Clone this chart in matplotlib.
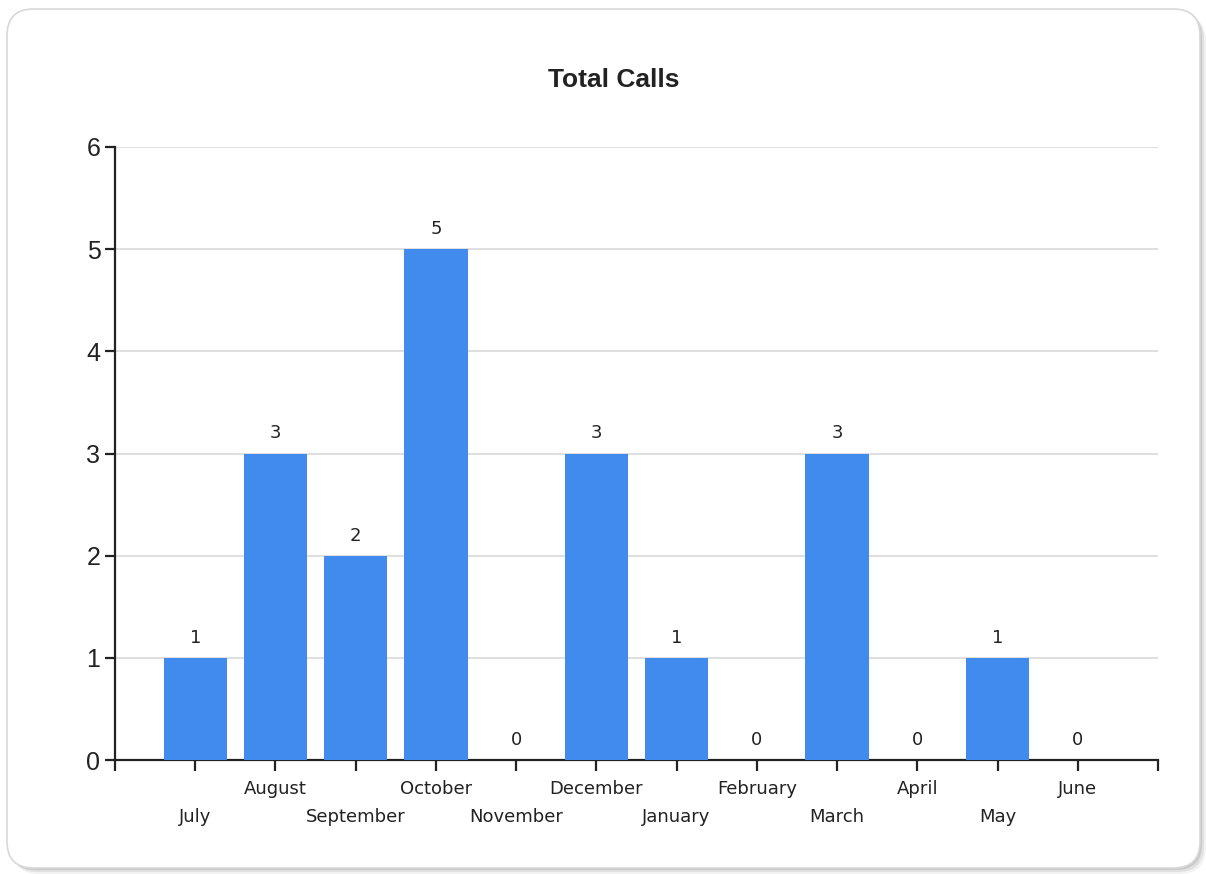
import matplotlib.pyplot as plt
from matplotlib.patches import FancyBboxPatch

# data
months = ["July", "August", "September", "October", "November", "December",
          "January", "February", "March", "April", "May", "June"]
calls = [1, 3, 2, 5, 0, 3, 1, 0, 3, 0, 1, 0]

bar_color = "#428BEE"
text_color = "#222222"

plt.rcParams['font.family'] = ['Liberation Sans', 'DejaVu Sans']

fig = plt.figure(figsize=(12.06, 8.74), dpi=100)
fig.patch.set_facecolor("white")

# rounded panel with soft shadow (kept behind the axes)
W, H = 1206, 874
for k, a in [(6, 0.05), (4, 0.07), (2, 0.10)]:
    sh = FancyBboxPatch((7 / W + k / W, (H - 868) / H - k / H), 1193 / W, 859 / H,
                        boxstyle="round,pad=0,rounding_size=0.022",
                        transform=fig.transFigure, facecolor="black",
                        edgecolor="none", alpha=a, mutation_aspect=W / H, zorder=-10)
    fig.patches.append(sh)
panel = FancyBboxPatch((7 / W, (H - 868) / H), 1193 / W, 859 / H,
                       boxstyle="round,pad=0,rounding_size=0.022",
                       transform=fig.transFigure, facecolor="white",
                       edgecolor="#d8d8d8", linewidth=1.2, mutation_aspect=W / H,
                       zorder=-9)
fig.patches.append(panel)

ax = fig.add_axes([115 / W, (H - 760) / H, (1158 - 115) / W, (760 - 147) / H])
ax.set_facecolor("none")

x = list(range(len(months)))
bars = ax.bar(x, calls, width=0.79, color=bar_color, zorder=3)

for xi, v in zip(x, calls):
    ax.annotate(str(v), (xi, v), xytext=(0, 8), textcoords="offset points",
                ha="center", va="bottom", fontsize=13, color=text_color,
                family="DejaVu Sans")

ax.set_xlim(-1, 12)
ax.set_ylim(0, 6)
ax.set_yticks(range(0, 7))
ax.set_xticks(range(-1, 13))
ax.set_xticklabels([])
ax.yaxis.grid(True, color="#dcdcdc", linewidth=1.3, zorder=0)
ax.set_axisbelow(True)

for s in ["top", "right"]:
    ax.spines[s].set_visible(False)
for s in ["left", "bottom"]:
    ax.spines[s].set_color(text_color)
    ax.spines[s].set_linewidth(1.6)

ax.tick_params(axis="y", direction="out", length=7.5, width=1.6, color=text_color,
               labelsize=18, labelcolor=text_color, pad=3)
ax.tick_params(axis="x", direction="out", length=8, width=1.6, color=text_color)

# staggered month labels
for i, m in enumerate(months):
    yy = -0.093 if i % 2 == 0 else -0.047
    ax.text(i, yy, m, transform=ax.get_xaxis_transform(), ha="center",
            va="center", fontsize=13, color=text_color, family="DejaVu Sans")

fig.text(614 / W, 1 - 80 / H, "Total Calls", ha="center", va="center",
         fontsize=19, fontweight="bold", color=text_color)

fig.savefig("out.png", dpi=100)
